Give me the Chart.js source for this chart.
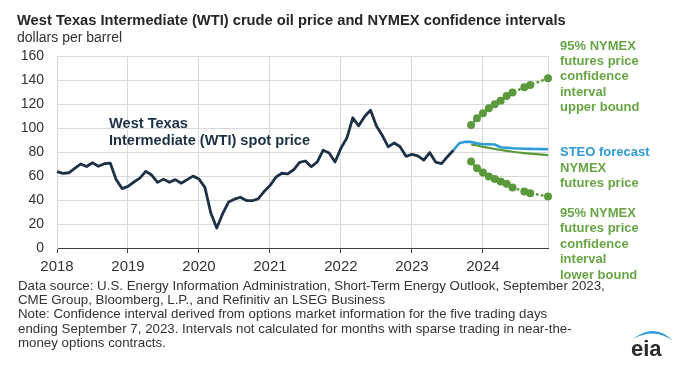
<!DOCTYPE html>
<html><head><meta charset="utf-8">
<script src="https://cdn.jsdelivr.net/npm/chart.js@4.4.0/dist/chart.umd.min.js"></script>
<style>html,body{margin:0;padding:0;background:#fff;}#wrap{width:697px;height:380px;}</style>
</head><body><div id="wrap"><canvas id="c" width="697" height="380"></canvas></div>
<script>
// ---- categories ----
const years = [2018, 2019, 2020, 2021, 2022, 2023, 2024];
const monthNums = ['01','02','03','04','05','06','07','08','09','10','11','12'];
const months = [];
years.forEach(y => monthNums.forEach(m => months.push(y + '-' + m)));

// ---- series values (dollars per barrel) ----
// WTI spot price, Jan 2018 - Aug 2023
const wtiSpot = [
  63.7, 62.2, 62.7, 66.3, 70.0, 67.9, 71.0, 68.1, 70.2, 70.8, 57.0, 49.5,
  51.4, 55.0, 58.2, 63.9, 60.8, 54.7, 57.4, 54.8, 57.0, 54.0, 57.0, 59.9,
  57.5, 50.5, 29.2, 16.6, 28.6, 38.3, 40.7, 42.3, 39.6, 39.4, 40.9, 47.0,
  52.0, 59.0, 62.3, 61.7, 65.2, 71.4, 72.5, 67.7, 71.7, 81.5, 79.2, 71.7,
  83.2, 91.6, 108.5, 101.8, 109.6, 114.8, 101.6, 93.7, 84.3, 87.6, 84.4, 76.4,
  78.1, 76.8, 73.3, 79.5, 71.6, 70.3, 76.1, 81.4
];
// STEO forecast, Aug 2023 - Dec 2024
const steoStart = '2023-08';
const steoForecast = [81.4, 87.3, 88.6, 88.4, 87.2, 86.5, 86.4, 86.2, 84.0, 83.5, 83.1, 82.9, 82.7, 82.6, 82.5, 82.4, 82.3];
// NYMEX futures, Nov 2023 - Dec 2024
const nymexStart = '2023-11';
const nymexFutures = [86.4, 85.4, 84.3, 83.4, 82.5, 81.7, 80.9, 80.2, 79.6, 79.1, 78.6, 78.2, 77.8, 77.4];
// 95% confidence interval bounds, Nov 2023 - Dec 2024 (null = not calculated)
const upperBound = [102.6, 108.2, 112.3, 116.5, 119.8, 122.8, 126.7, 129.5, null, 133.9, 135.9, null, null, 141.4];
const lowerBound = [72.0, 66.5, 62.9, 59.6, 57.4, 55.4, 53.5, 50.4, null, 47.1, 45.7, null, null, 42.9];
// y-axis ticks
const yTicks = [0, 20, 40, 60, 80, 100, 120, 140, 160];

function place(startLabel, vals) {
  const i0 = months.indexOf(startLabel);
  const out = new Array(months.length).fill(null);
  vals.forEach((v, k) => { out[i0 + k] = v; });
  return out;
}
const wtiData = place('2018-01', wtiSpot);
const steoData = place(steoStart, steoForecast);
const nymexData = place(nymexStart, nymexFutures);
const upperData = place(nymexStart, upperBound);
const lowerData = place(nymexStart, lowerBound);

const NAVY = '#1c3146', BLUE = '#2e9bd8', GREEN = '#5b9a3c', TXTGREEN = '#67a545';
const FONT = '"Liberation Sans", Arial, sans-serif';
const isJan = i => months[i] && months[i].endsWith('-01');

const textPlugin = {
  id: 'texts',
  afterDraw(chart) {
    const c = chart.ctx;
    c.save();
    c.textBaseline = 'middle';
    c.textAlign = 'left';
    c.fillStyle = '#262626';
    c.font = 'bold 14.7px ' + FONT;
    c.fillText('West Texas Intermediate (WTI) crude oil price and NYMEX confidence intervals', 17, 21);
    c.fillStyle = '#333';
    c.font = '14px ' + FONT;
    c.fillText('dollars per barrel', 17, 38);

    c.fillStyle = NAVY;
    c.font = 'bold 14.6px ' + FONT;
    c.fillText('West Texas', 109, 124);
    c.fillText('Intermediate (WTI) spot price', 109, 141);

    c.font = 'bold 13px ' + FONT;
    c.fillStyle = TXTGREEN;
    const up = ['95% NYMEX', 'futures price', 'confidence', 'interval', 'upper bound'];
    up.forEach((t, k) => c.fillText(t, 560, 46 + k * 15.4));
    c.fillStyle = BLUE;
    c.fillText('STEO forecast', 560, 152.5);
    c.fillStyle = TXTGREEN;
    c.fillText('NYMEX', 560, 168);
    c.fillText('futures price', 560, 183.5);
    const lo = ['95% NYMEX', 'futures price', 'confidence', 'interval', 'lower bound'];
    lo.forEach((t, k) => c.fillText(t, 560, 213.5 + k * 15.4));

    c.fillStyle = '#333';
    c.font = '13.3px ' + FONT;
    const notes = [
      'Data source: U.S. Energy Information Administration, Short-Term Energy Outlook, September 2023,',
      'CME Group, Bloomberg, L.P., and Refinitiv an LSEG Business',
      'Note: Confidence interval derived from options market information for the five trading days',
      'ending September 7, 2023. Intervals not calculated for months with sparse trading in near-the-',
      'money options contracts.'
    ];
    const ny = [286, 300, 314, 329, 343];
    notes.forEach((t, k) => c.fillText(t, 18, ny[k]));

    // eia logo
    c.fillStyle = '#2b2b2b';
    c.font = 'bold 22px ' + FONT;
    c.fillText('eia', 631, 350);
    c.fillStyle = '#2a9ad8';
    c.beginPath();
    c.moveTo(633, 339);
    c.quadraticCurveTo(655, 322, 673, 341);
    c.quadraticCurveTo(655, 327, 633, 339);
    c.fill();
    c.restore();
  }
};

new Chart(document.getElementById('c'), {
  type: 'line',
  data: {
    labels: months,
    datasets: [
      { label: 'WTI spot price', data: wtiData, borderColor: NAVY, borderWidth: 2.8, pointRadius: 0, borderJoinStyle: 'round', order: 0 },
      { label: 'STEO forecast', data: steoData, borderColor: BLUE, borderWidth: 2.6, pointRadius: 0, borderJoinStyle: 'round', order: 1 },
      { label: 'NYMEX futures price', data: nymexData, borderColor: GREEN, borderWidth: 2.2, pointRadius: 0, order: 2 },
      { label: 'Upper bound', data: upperData, borderColor: GREEN, borderWidth: 2.6, borderDash: [0.5, 4.5], borderCapStyle: 'round',
        spanGaps: true, pointRadius: 4, pointBackgroundColor: GREEN, pointBorderWidth: 0, order: 3 },
      { label: 'Lower bound', data: lowerData, borderColor: GREEN, borderWidth: 2.6, borderDash: [0.5, 4.5], borderCapStyle: 'round',
        spanGaps: true, pointRadius: 4, pointBackgroundColor: GREEN, pointBorderWidth: 0, order: 4 }
    ]
  },
  options: {
    responsive: false,
    animation: false,
    devicePixelRatio: 1,
    layout: { padding: { top: 56, right: 149, left: 0, bottom: 0 } },
    plugins: { legend: { display: false }, tooltip: { enabled: false }, title: { display: false } },
    scales: {
      x: {
        type: 'category',
        offset: false,
        grid: {
          color: ctx => (isJan(ctx.index) || ctx.index === months.length - 1) ? '#d9d9d9' : 'rgba(0,0,0,0)',
          tickColor: ctx => isJan(ctx.index) ? '#404040' : 'rgba(0,0,0,0)',
          tickLength: 5,
          lineWidth: 1
        },
        border: { color: '#404040', width: 1 },
        ticks: {
          autoSkip: false, maxRotation: 0, minRotation: 0, padding: 5,
          color: '#333', font: { family: FONT, size: 15 },
          callback: (v, i) => isJan(i) ? months[i].slice(0, 4) : ''
        },
        afterFit: s => { s.height = 132; }
      },
      y: {
        min: 0, max: 160,
        afterBuildTicks: s => { s.ticks = yTicks.map(v => ({ value: v })); },
        grid: { color: '#d9d9d9', drawTicks: false, lineWidth: 1 },
        border: { color: '#d9d9d9', width: 1 },
        ticks: { padding: 13, color: '#333', font: { family: FONT, size: 14 } },
        afterFit: s => { s.width = 57; }
      }
    }
  },
  plugins: [textPlugin]
});
</script>
</body></html>
